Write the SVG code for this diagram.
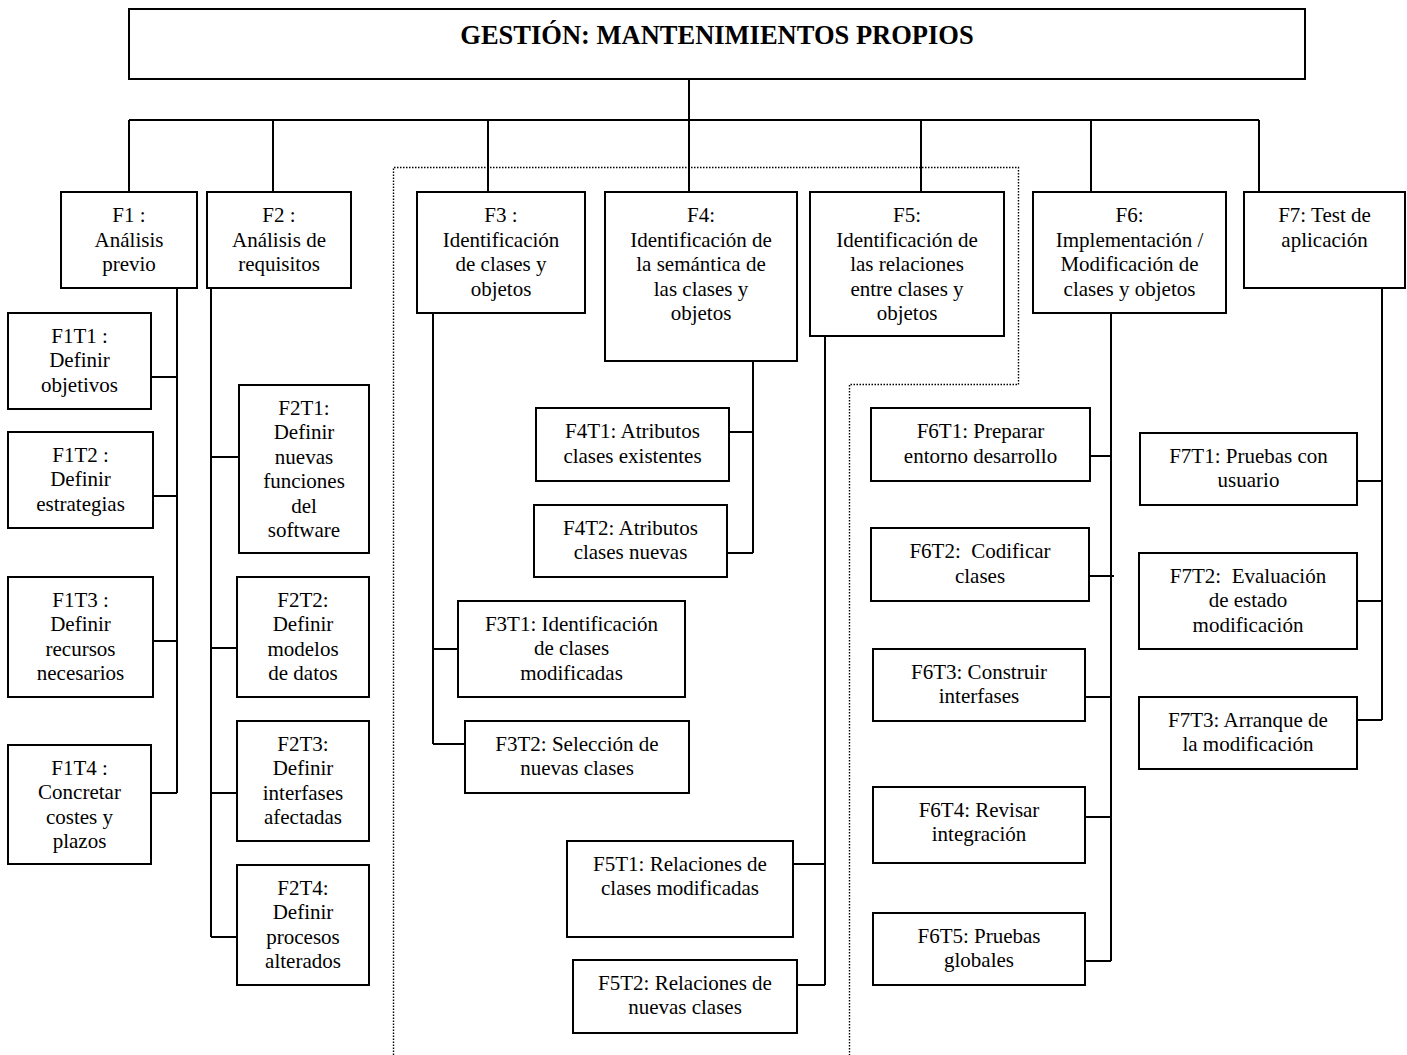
<svg xmlns="http://www.w3.org/2000/svg" width="1407" height="1055" viewBox="0 0 1407 1055">
  <style>
    .box { fill: #fff; stroke: #000; stroke-width: 2; }
    .t { font-family: "Liberation Serif", "Times New Roman", serif; font-size: 21px; text-anchor: middle; fill: #000; white-space: pre; }
    .title { font-family: "Liberation Serif", "Times New Roman", serif; font-size: 26.5px; font-weight: bold; text-anchor: middle; fill: #000; }
    .conn { stroke: #000; stroke-width: 2; fill: none; }
    .dot { stroke: #000; stroke-width: 1.4; stroke-dasharray: 1.5 1.5; fill: none; }
  </style>
  <rect width="1407" height="1055" fill="#fff"/>

  <!-- dotted outline around phases F3-F5 -->
  <path class="dot" d="M393.5,1055 V167.5 H1018.5 V384.5 H849.5 V1055"/>

  <g id="connectors">
    <path class="conn" d="M689,79 V120 M129,120 H1259"/>
    <path class="conn" d="M129,120 V192 M273,120 V192 M488,120 V192 M689,120 V192 M921,120 V192 M1091,120 V192 M1259,120 V192"/>
    <!-- F1 tasks -->
    <path class="conn" d="M177,288 V793 M151,377 H177 M153,496 H177 M153,641 H177 M151,793 H177"/>
    <!-- F2 tasks -->
    <path class="conn" d="M211,288 V937 M211,457 H239 M211,648 H237 M211,793 H237 M211,937 H237"/>
    <!-- F3 tasks -->
    <path class="conn" d="M433,313 V744 M433,649 H458 M433,744 H465"/>
    <!-- F4 tasks -->
    <path class="conn" d="M753,361 V553 M729,432 H753 M727,553 H753"/>
    <!-- F5 tasks -->
    <path class="conn" d="M825,336 V985 M793,864 H825 M797,985 H825"/>
    <!-- F6 tasks -->
    <path class="conn" d="M1111,313 V961 M1090,456 H1111 M1089,576 H1114 M1085,697 H1111 M1085,817 H1111 M1085,961 H1111"/>
    <!-- F7 tasks -->
    <path class="conn" d="M1382,288 V720 M1357,481 H1382 M1357,601 H1382 M1357,720 H1382"/>
  </g>

  <g id="root">
    <rect class="box" x="129" y="9" width="1176" height="70"/>
    <text class="title" x="717" y="44">GESTIÓN: MANTENIMIENTOS PROPIOS</text>
  </g>

  <g id="F1">
    <rect class="box" x="61" y="192" width="136" height="96"/>
    <text class="t"><tspan x="129" y="222">F1 :</tspan><tspan x="129" y="246.5">Análisis</tspan><tspan x="129" y="271">previo</tspan></text>
  </g>
  <g id="F2">
    <rect class="box" x="207" y="192" width="144" height="96"/>
    <text class="t"><tspan x="279" y="222">F2 :</tspan><tspan x="279" y="246.5">Análisis de</tspan><tspan x="279" y="271">requisitos</tspan></text>
  </g>
  <g id="F3">
    <rect class="box" x="417" y="192" width="168" height="121"/>
    <text class="t"><tspan x="501" y="222">F3 :</tspan><tspan x="501" y="246.5">Identificación</tspan><tspan x="501" y="271">de clases y</tspan><tspan x="501" y="295.5">objetos</tspan></text>
  </g>
  <g id="F4">
    <rect class="box" x="605" y="192" width="192" height="169"/>
    <text class="t"><tspan x="701" y="222">F4:</tspan><tspan x="701" y="246.5">Identificación de</tspan><tspan x="701" y="271">la semántica de</tspan><tspan x="701" y="295.5">las clases y</tspan><tspan x="701" y="320">objetos</tspan></text>
  </g>
  <g id="F5">
    <rect class="box" x="810" y="192" width="194" height="144"/>
    <text class="t"><tspan x="907" y="222">F5:</tspan><tspan x="907" y="246.5">Identificación de</tspan><tspan x="907" y="271">las relaciones</tspan><tspan x="907" y="295.5">entre clases y</tspan><tspan x="907" y="320">objetos</tspan></text>
  </g>
  <g id="F6">
    <rect class="box" x="1033" y="192" width="193" height="121"/>
    <text class="t"><tspan x="1129.5" y="222">F6:</tspan><tspan x="1129.5" y="246.5">Implementación /</tspan><tspan x="1129.5" y="271">Modificación de</tspan><tspan x="1129.5" y="295.5">clases y objetos</tspan></text>
  </g>
  <g id="F7">
    <rect class="box" x="1244" y="192" width="161" height="96"/>
    <text class="t"><tspan x="1324.5" y="222">F7: Test de</tspan><tspan x="1324.5" y="246.5">aplicación</tspan></text>
  </g>

  <g id="F1T1">
    <rect class="box" x="8" y="313" width="143" height="96"/>
    <text class="t"><tspan x="79.5" y="342.5">F1T1 :</tspan><tspan x="79.5" y="367">Definir</tspan><tspan x="79.5" y="391.5">objetivos</tspan></text>
  </g>
  <g id="F1T2">
    <rect class="box" x="8" y="432" width="145" height="96"/>
    <text class="t"><tspan x="80.5" y="461.5">F1T2 :</tspan><tspan x="80.5" y="486">Definir</tspan><tspan x="80.5" y="510.5">estrategias</tspan></text>
  </g>
  <g id="F1T3">
    <rect class="box" x="8" y="577" width="145" height="120"/>
    <text class="t"><tspan x="80.5" y="606.5">F1T3 :</tspan><tspan x="80.5" y="631">Definir</tspan><tspan x="80.5" y="655.5">recursos</tspan><tspan x="80.5" y="680">necesarios</tspan></text>
  </g>
  <g id="F1T4">
    <rect class="box" x="8" y="745" width="143" height="119"/>
    <text class="t"><tspan x="79.5" y="774.5">F1T4 :</tspan><tspan x="79.5" y="799">Concretar</tspan><tspan x="79.5" y="823.5">costes y</tspan><tspan x="79.5" y="848">plazos</tspan></text>
  </g>

  <g id="F2T1">
    <rect class="box" x="239" y="385" width="130" height="168"/>
    <text class="t"><tspan x="304" y="414.5">F2T1:</tspan><tspan x="304" y="439">Definir</tspan><tspan x="304" y="463.5">nuevas</tspan><tspan x="304" y="488">funciones</tspan><tspan x="304" y="512.5">del</tspan><tspan x="304" y="537">software</tspan></text>
  </g>
  <g id="F2T2">
    <rect class="box" x="237" y="577" width="132" height="120"/>
    <text class="t"><tspan x="303" y="606.5">F2T2:</tspan><tspan x="303" y="631">Definir</tspan><tspan x="303" y="655.5">modelos</tspan><tspan x="303" y="680">de datos</tspan></text>
  </g>
  <g id="F2T3">
    <rect class="box" x="237" y="721" width="132" height="120"/>
    <text class="t"><tspan x="303" y="750.5">F2T3:</tspan><tspan x="303" y="775">Definir</tspan><tspan x="303" y="799.5">interfases</tspan><tspan x="303" y="824">afectadas</tspan></text>
  </g>
  <g id="F2T4">
    <rect class="box" x="237" y="865" width="132" height="120"/>
    <text class="t"><tspan x="303" y="894.5">F2T4:</tspan><tspan x="303" y="919">Definir</tspan><tspan x="303" y="943.5">procesos</tspan><tspan x="303" y="968">alterados</tspan></text>
  </g>

  <g id="F3T1">
    <rect class="box" x="458" y="601" width="227" height="96"/>
    <text class="t"><tspan x="571.5" y="630.5">F3T1: Identificación</tspan><tspan x="571.5" y="655">de clases</tspan><tspan x="571.5" y="679.5">modificadas</tspan></text>
  </g>
  <g id="F3T2">
    <rect class="box" x="465" y="721" width="224" height="72"/>
    <text class="t"><tspan x="577" y="750.5">F3T2: Selección de</tspan><tspan x="577" y="775">nuevas clases</tspan></text>
  </g>

  <g id="F4T1">
    <rect class="box" x="536" y="408" width="193" height="73"/>
    <text class="t"><tspan x="632.5" y="438">F4T1: Atributos</tspan><tspan x="632.5" y="462.5">clases existentes</tspan></text>
  </g>
  <g id="F4T2">
    <rect class="box" x="534" y="505" width="193" height="72"/>
    <text class="t"><tspan x="630.5" y="534.5">F4T2: Atributos</tspan><tspan x="630.5" y="559">clases nuevas</tspan></text>
  </g>

  <g id="F5T1">
    <rect class="box" x="567" y="841" width="226" height="96"/>
    <text class="t"><tspan x="680" y="870.5">F5T1: Relaciones de</tspan><tspan x="680" y="895">clases modificadas</tspan></text>
  </g>
  <g id="F5T2">
    <rect class="box" x="573" y="960" width="224" height="73"/>
    <text class="t"><tspan x="685" y="989.5">F5T2: Relaciones de</tspan><tspan x="685" y="1014">nuevas clases</tspan></text>
  </g>

  <g id="F6T1">
    <rect class="box" x="871" y="408" width="219" height="73"/>
    <text class="t"><tspan x="980.5" y="438">F6T1: Preparar</tspan><tspan x="980.5" y="462.5">entorno desarrollo</tspan></text>
  </g>
  <g id="F6T2">
    <rect class="box" x="871" y="528" width="218" height="73"/>
    <text class="t"><tspan x="980" y="558">F6T2:  Codificar</tspan><tspan x="980" y="582.5">clases</tspan></text>
  </g>
  <g id="F6T3">
    <rect class="box" x="873" y="649" width="212" height="72"/>
    <text class="t"><tspan x="979" y="678.5">F6T3: Construir</tspan><tspan x="979" y="703">interfases</tspan></text>
  </g>
  <g id="F6T4">
    <rect class="box" x="873" y="787" width="212" height="76"/>
    <text class="t"><tspan x="979" y="816.5">F6T4: Revisar</tspan><tspan x="979" y="841">integración</tspan></text>
  </g>
  <g id="F6T5">
    <rect class="box" x="873" y="913" width="212" height="72"/>
    <text class="t"><tspan x="979" y="942.5">F6T5: Pruebas</tspan><tspan x="979" y="967">globales</tspan></text>
  </g>

  <g id="F7T1">
    <rect class="box" x="1140" y="433" width="217" height="72"/>
    <text class="t"><tspan x="1248.5" y="462.5">F7T1: Pruebas con</tspan><tspan x="1248.5" y="487">usuario</tspan></text>
  </g>
  <g id="F7T2">
    <rect class="box" x="1139" y="553" width="218" height="96"/>
    <text class="t"><tspan x="1248" y="582.5">F7T2:  Evaluación</tspan><tspan x="1248" y="607">de estado</tspan><tspan x="1248" y="631.5">modificación</tspan></text>
  </g>
  <g id="F7T3">
    <rect class="box" x="1139" y="697" width="218" height="72"/>
    <text class="t"><tspan x="1248" y="726.5">F7T3: Arranque de</tspan><tspan x="1248" y="751">la modificación</tspan></text>
  </g>
</svg>
